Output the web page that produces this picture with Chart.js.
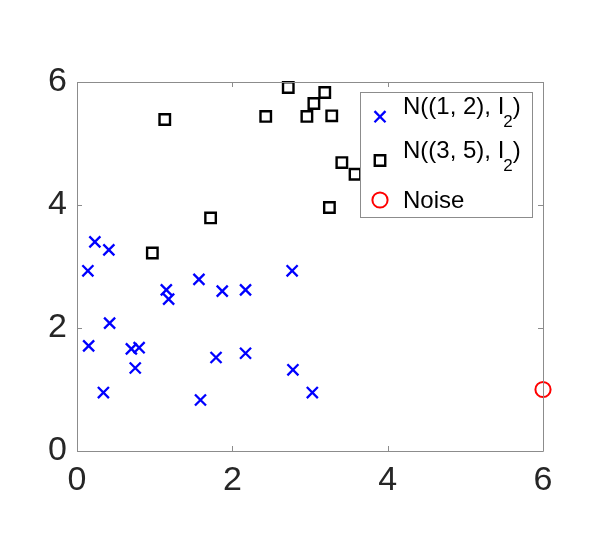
<!DOCTYPE html>
<html>
<head>
<meta charset="utf-8">
<script src="https://cdn.jsdelivr.net/npm/chart.js@4/dist/chart.umd.min.js"></script>
<style>
html,body{margin:0;padding:0;background:#fff;}
#wrap{width:598px;height:549px;}
</style>
</head>
<body>
<div id="wrap"><canvas id="c" width="598" height="549"></canvas></div>
<script>
// Series 1: N((1,2), I2) — blue crosses
const seriesAX = [0.23,0.41,0.14,1.15,1.18,1.57,1.87,2.17,2.77,0.42,0.15,0.70,0.80,0.75,1.79,2.17,2.78,0.34,1.59,3.03];
const seriesAY = [3.40,3.27,2.93,2.62,2.47,2.79,2.60,2.62,2.93,2.08,1.71,1.66,1.68,1.35,1.52,1.59,1.32,0.95,0.83,0.95];
// Series 2: N((3,5), I2) — black squares (visible ones)
const seriesBX = [2.72,3.19,3.05,2.43,2.96,3.28,1.13,3.41,3.58,3.25,1.72,0.97];
const seriesBY = [5.91,5.83,5.65,5.44,5.44,5.45,5.39,4.69,4.50,3.96,3.79,3.22];
// Noise — red circle
const noiseX = [6.0];
const noiseY = [1.0];
// Axis ticks
const xTicks = [0,2,4,6];
const yTicks = [0,2,4,6];
// Legend labels
const legendLabels = [
  {main:'N((1, 2), I', sub:'2', tail:')'},
  {main:'N((3, 5), I', sub:'2', tail:')'},
  {main:'Noise', sub:'', tail:''}
];

function pts(xs, ys){ return xs.map((x,i)=>({x:x,y:ys[i]})); }

const FONT = '"Liberation Sans", Arial, Helvetica, sans-serif';
const AXIS_COLOR = '#8c8c8c';
const TEXT_COLOR = '#262626';

const boxPlugin = {
  id:'boxAndTicks',
  afterDraw(chart){
    const ctx = chart.ctx;
    const a = chart.chartArea;
    const xs = chart.scales.x, ys = chart.scales.y;
    ctx.save();
    ctx.strokeStyle = AXIS_COLOR;
    ctx.lineWidth = 1;
    ctx.beginPath();
    ctx.rect(Math.round(a.left)+0.5, Math.round(a.top)+0.5, Math.round(a.right-a.left), Math.round(a.bottom-a.top));
    ctx.stroke();
    // inward ticks
    const tl = 5;
    ctx.beginPath();
    xTicks.forEach(v=>{
      const px = Math.round(xs.getPixelForValue(v))+0.5;
      ctx.moveTo(px, a.bottom); ctx.lineTo(px, a.bottom - tl);
      ctx.moveTo(px, a.top); ctx.lineTo(px, a.top + tl);
    });
    yTicks.forEach(v=>{
      const py = Math.round(ys.getPixelForValue(v))+0.5;
      ctx.moveTo(a.left, py); ctx.lineTo(a.left + tl, py);
      ctx.moveTo(a.right, py); ctx.lineTo(a.right - tl, py);
    });
    ctx.stroke();

    // Legend box
    const lx = 360.5, ly = 92.5, lw = 172, lh = 125;
    ctx.fillStyle = '#ffffff';
    ctx.fillRect(lx, ly, lw, lh);
    ctx.strokeStyle = AXIS_COLOR;
    ctx.strokeRect(lx, ly, lw, lh);
    ctx.restore();

    // Legend markers
    const ds = chart.data.datasets;
    const markerY = [116.7, 160.5, 200];
    ds.forEach((d,i)=>{
      ctx.save();
      ctx.strokeStyle = d.borderColor;
      ctx.fillStyle = 'rgba(0,0,0,0)';
      ctx.lineWidth = d.pointBorderWidth;
      Chart.helpers.drawPoint(ctx, {pointStyle:d.pointStyle, radius:d.pointRadius, rotation:0, borderWidth:d.pointBorderWidth}, 380, markerY[i]);
      ctx.restore();
    });

    // Legend text
    const baseY = [114.3, 158.2, 208];
    ctx.save();
    ctx.fillStyle = '#000';
    ctx.textBaseline = 'alphabetic';
    ctx.textAlign = 'left';
    legendLabels.forEach((l,i)=>{
      ctx.font = '24px ' + FONT;
      let x = 403;
      ctx.fillText(l.main, x, baseY[i]);
      x += ctx.measureText(l.main).width;
      if (l.sub){
        ctx.font = '17px ' + FONT;
        ctx.fillText(l.sub, x - 1, baseY[i] + 13);
        x += ctx.measureText(l.sub).width - 1;
        ctx.font = '24px ' + FONT;
        ctx.fillText(l.tail, x, baseY[i]);
      }
    });
    ctx.restore();
  }
};

new Chart(document.getElementById('c'), {
  type:'scatter',
  data:{
    datasets:[
      {label:'N((1, 2), I2)', data:pts(seriesAX, seriesAY), pointStyle:'crossRot', pointRadius:7.8, pointBorderWidth:2.3, borderColor:'#0000ff', backgroundColor:'rgba(0,0,0,0)', pointHoverRadius:7.8, clip:false},
      {label:'N((3, 5), I2)', data:pts(seriesBX, seriesBY), pointStyle:'rect', pointRadius:7.4, pointBorderWidth:2.4, borderColor:'#000000', backgroundColor:'rgba(0,0,0,0)', pointHoverRadius:7.4, clip:false},
      {label:'Noise', data:pts(noiseX, noiseY), pointStyle:'circle', pointRadius:7.6, pointBorderWidth:2, borderColor:'#ff0000', backgroundColor:'rgba(0,0,0,0)', pointHoverRadius:7.6, clip:false}
    ]
  },
  options:{
    responsive:false,
    animation:false,
    events:[],
    layout:{padding:{left:10, right:55, top:82, bottom:0}},
    plugins:{legend:{display:false}, tooltip:{enabled:false}},
    scales:{
      x:{
        type:'linear', min:0, max:6,
        afterBuildTicks(s){ s.ticks = xTicks.map(v=>({value:v})); },
        afterFit(s){ s.height = 549 - 451; },
        border:{display:false},
        grid:{display:false, drawTicks:false},
        ticks:{font:{family:FONT, size:34}, color:TEXT_COLOR, padding:9, maxRotation:0}
      },
      y:{
        type:'linear', min:0, max:6,
        afterBuildTicks(s){ s.ticks = yTicks.map(v=>({value:v})); },
        afterFit(s){ s.width = 77 - 10; },
        border:{display:false},
        grid:{display:false, drawTicks:false},
        ticks:{font:{family:FONT, size:34}, color:TEXT_COLOR, padding:10}
      }
    }
  },
  plugins:[boxPlugin]
});
</script>
</body>
</html>
